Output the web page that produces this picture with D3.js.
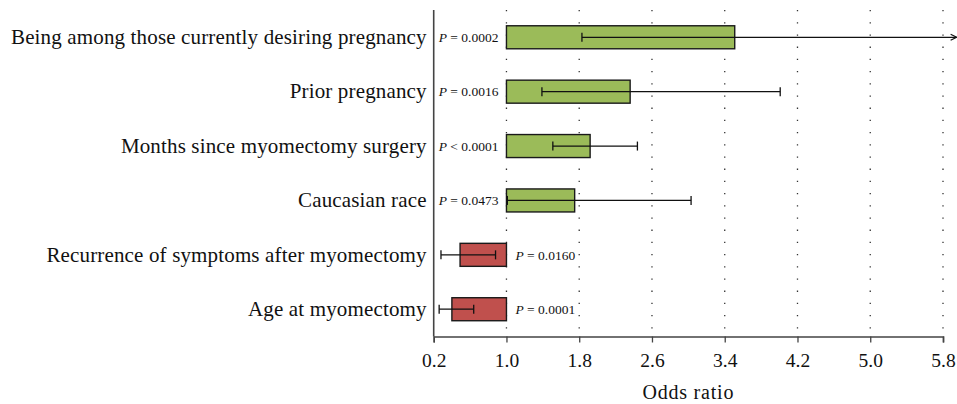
<!DOCTYPE html>
<html>
<head>
<meta charset="utf-8">
<script src="https://cdn.jsdelivr.net/npm/d3@7"></script>
<style>
  html, body { margin: 0; padding: 0; background: #fff; }
  svg { display: block; }
  text { font-family: "Liberation Serif", "DejaVu Serif", serif; fill: #111; }
</style>
</head>
<body>
<svg id="chart" width="957" height="404"></svg>
<script>
// ---- data ----
const categories = [
  "Being among those currently desiring pregnancy",
  "Prior pregnancy",
  "Months since myomectomy surgery",
  "Caucasian race",
  "Recurrence of symptoms after myomectomy",
  "Age at myomectomy"
];
const oddsRatios = [3.51, 2.36, 1.92, 1.75, 0.49, 0.40];
const ciLow      = [1.83, 1.39, 1.51, 1.01, 0.28, 0.26];
const ciHigh     = [5.95, 4.01, 2.44, 3.03, 0.88, 0.64];
const ciTruncated = [true, false, false, false, false, false];
const pLabels    = ["= 0.0002", "= 0.0016", "< 0.0001", "= 0.0473", "= 0.0160", "= 0.0001"];
const tickValues = [0.2, 1.0, 1.8, 2.6, 3.4, 4.2, 5.0, 5.8];
const xTitle = "Odds ratio";

// ---- layout ----
const svg = d3.select("#chart");
const x = d3.scaleLinear().domain([0.2, 5.8]).range([433.7, 943]);
const y = d3.scaleBand().domain(categories).range([10, 336.5]).paddingInner(0.577).paddingOuter(0.29);
const yTop = 10, yBottom = 336.5;
const green = "#9BBB59", red = "#C0504D";

// arrow marker
svg.append("defs").append("marker")
  .attr("id", "arrow").attr("viewBox", "0 0 8 8")
  .attr("refX", 7).attr("refY", 4)
  .attr("markerWidth", 8).attr("markerHeight", 8)
  .attr("markerUnits", "userSpaceOnUse")
  .attr("orient", "auto")
  .append("path").attr("d", "M1,1 L7,4 L1,7")
  .attr("fill", "none").attr("stroke", "#111").attr("stroke-width", 1.2);

// gridlines
svg.append("g").selectAll("line")
  .data(tickValues.slice(1))
  .join("line")
  .attr("x1", d => x(d)).attr("x2", d => x(d))
  .attr("y1", yTop).attr("y2", yBottom)
  .attr("stroke", "#333").attr("stroke-width", 1.3)
  .attr("stroke-dasharray", "1.3,10.9");

// bars
const rows = categories.map((c, i) => ({
  cat: c, or: oddsRatios[i], lo: ciLow[i], hi: ciHigh[i], trunc: ciTruncated[i], p: pLabels[i]
}));

svg.append("g").selectAll("rect")
  .data(rows)
  .join("rect")
  .attr("x", d => x(Math.min(1, d.or)))
  .attr("width", d => Math.abs(x(d.or) - x(1)))
  .attr("y", d => y(d.cat))
  .attr("height", y.bandwidth())
  .attr("fill", d => d.or >= 1 ? green : red)
  .attr("stroke", "#1a1a1a").attr("stroke-width", 1.4);

// error bars
const eb = svg.append("g").selectAll("g").data(rows).join("g");
eb.append("line")
  .attr("x1", d => x(d.lo)).attr("x2", d => x(d.hi))
  .attr("y1", d => y(d.cat) + y.bandwidth() / 2)
  .attr("y2", d => y(d.cat) + y.bandwidth() / 2)
  .attr("stroke", "#111").attr("stroke-width", 1.3)
  .attr("marker-end", d => d.trunc ? "url(#arrow)" : null);
eb.append("line")
  .attr("x1", d => x(d.lo)).attr("x2", d => x(d.lo))
  .attr("y1", d => y(d.cat) + y.bandwidth() / 2 - 4.5)
  .attr("y2", d => y(d.cat) + y.bandwidth() / 2 + 4.5)
  .attr("stroke", "#111").attr("stroke-width", 1.3);
eb.filter(d => !d.trunc).append("line")
  .attr("x1", d => x(d.hi)).attr("x2", d => x(d.hi))
  .attr("y1", d => y(d.cat) + y.bandwidth() / 2 - 4.5)
  .attr("y2", d => y(d.cat) + y.bandwidth() / 2 + 4.5)
  .attr("stroke", "#111").attr("stroke-width", 1.3);

// p-value labels
const pt = svg.append("g").selectAll("text").data(rows).join("text")
  .attr("x", d => d.or >= 1 ? x(1) - 8 : x(1) + 9)
  .attr("y", d => y(d.cat) + y.bandwidth() / 2)
  .attr("dy", "0.35em")
  .attr("text-anchor", d => d.or >= 1 ? "end" : "start")
  .style("font-size", "13.5px");
pt.append("tspan").attr("font-style", "italic").text("P");
pt.append("tspan").text(d => " " + d.p);

// y axis
svg.append("line")
  .attr("x1", x(0.2)).attr("x2", x(0.2))
  .attr("y1", yTop).attr("y2", yBottom)
  .attr("stroke", "#444").attr("stroke-width", 1.6);

svg.append("g").selectAll("text").data(categories).join("text")
  .attr("x", x(0.2) - 7)
  .attr("y", d => y(d) + y.bandwidth() / 2)
  .attr("dy", "0.32em")
  .attr("text-anchor", "end")
  .style("font-size", "21px")
  .style("letter-spacing", "0.15px")
  .text(d => d);

// x axis
const xAxis = svg.append("g")
  .attr("transform", `translate(0,${yBottom})`)
  .call(d3.axisBottom(x).tickValues(tickValues).tickFormat(d3.format(".1f")).tickSize(6).tickPadding(11));
xAxis.select(".domain").attr("stroke", "#444").attr("stroke-width", 1.6);
xAxis.selectAll(".tick line").attr("stroke", "#444").attr("stroke-width", 1.3);
xAxis.selectAll(".tick text")
  .style("font-family", "'Liberation Serif', serif")
  .style("font-size", "19.5px").attr("fill", "#111");

svg.append("text")
  .attr("x", (x.range()[0] + x.range()[1]) / 2)
  .attr("y", 399)
  .attr("text-anchor", "middle")
  .style("font-size", "20px")
  .style("letter-spacing", "0.8px")
  .text(xTitle);
</script>
</body>
</html>
